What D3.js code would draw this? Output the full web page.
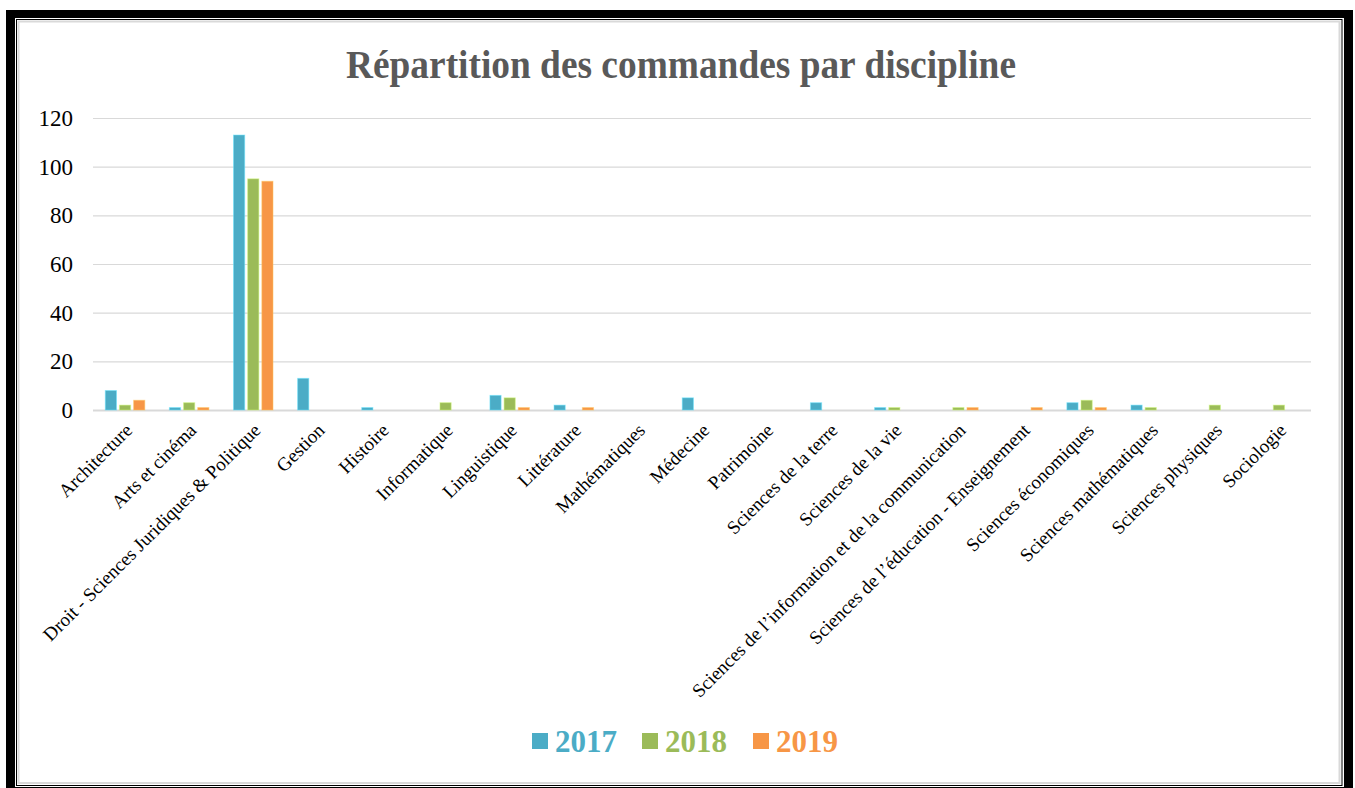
<!DOCTYPE html>
<html>
<head>
<meta charset="utf-8">
<script src="https://cdn.jsdelivr.net/npm/d3@7"></script>
<style>
    html, body { margin: 0; padding: 0; background: #fff; }
    svg { display: block; }
    text { font-family: "Liberation Serif", "Times New Roman", serif; }
</style>
</head>
<body>
<div id="chart"></div>
<script>
const categories = [
    'Architecture',
    'Arts et cinéma',
    'Droit - Sciences Juridiques & Politique',
    'Gestion',
    'Histoire',
    'Informatique',
    'Linguistique',
    'Littérature',
    'Mathématiques',
    'Médecine',
    'Patrimoine',
    'Sciences de la terre',
    'Sciences de la vie',
    'Sciences de l\u2019information et de la communication',
    'Sciences de l\u2019éducation - Enseignement',
    'Sciences économiques',
    'Sciences mathématiques',
    'Sciences physiques',
    'Sociologie'
];
const years = ['2017', '2018', '2019'];
const values2017 = [8, 1, 113, 13, 1, 0, 6, 2, 0, 5, 0, 3, 1, 0, 0, 3, 2, 0, 0];
const values2018 = [2, 3, 95, 0, 0, 3, 5, 0, 0, 0, 0, 0, 1, 1, 0, 4, 1, 2, 2];
const values2019 = [4, 1, 94, 0, 0, 0, 1, 1, 0, 0, 0, 0, 0, 1, 1, 1, 0, 0, 0];
const yTicks = [0, 20, 40, 60, 80, 100, 120];
const colors = ['#4BACC6', '#9BBB59', '#F79646'];

const width = 1355;
const height = 788;
const plot = { left: 93, right: 1311, top: 118, bottom: 410 };
const serif = '"Liberation Serif", "Times New Roman", serif';

let svg, xScale, xInner, yScale, colorScale;

const rows = categories.map((name, i) => ({
    name,
    values: [values2017[i], values2018[i], values2019[i]]
}));

function buildScales() {
    xScale = d3.scaleBand()
        .domain(categories)
        .range([plot.left, plot.right]);

    xInner = d3.scaleBand()
        .domain(years)
        .range([-19.75, 19.75])
        .paddingInner(0.21);

    yScale = d3.scaleLinear()
        .domain([0, 120])
        .range([plot.bottom, plot.top]);

    colorScale = d3.scaleOrdinal()
        .domain(years)
        .range(colors);
}

// frame: thick black outer border, thin black line, grey shadow
function drawFrame() {
    svg.append('rect')
        .attr('x', 6).attr('y', 10)
        .attr('width', 1347).attr('height', 800)
        .attr('fill', '#000');
    svg.append('rect')
        .attr('x', 15).attr('y', 18)
        .attr('width', 1329).attr('height', 769)
        .attr('fill', '#fff');
    svg.append('rect')
        .attr('x', 16.5).attr('y', 19.5)
        .attr('width', 1325.5).attr('height', 766)
        .attr('fill', 'none')
        .attr('stroke', '#000')
        .attr('stroke-width', 1);
    svg.append('rect')
        .attr('x', 18.5).attr('y', 21.5)
        .attr('width', 1321).attr('height', 761.5)
        .attr('fill', 'none')
        .attr('stroke', '#d9d9d9')
        .attr('stroke-width', 2);
}

function drawTitle() {
    svg.append('text')
        .attr('x', 681)
        .attr('y', 78)
        .attr('text-anchor', 'middle')
        .attr('font-size', 39)
        .attr('font-weight', 'bold')
        .attr('fill', '#595959')
        .attr('textLength', 670)
        .attr('lengthAdjust', 'spacingAndGlyphs')
        .text('Répartition des commandes par discipline');
}

function drawAxes() {
    // gridlines
    svg.append('g')
        .attr('transform', `translate(${plot.left},0)`)
        .call(d3.axisLeft(yScale).tickValues(yTicks.slice(1)).tickSize(-(plot.right - plot.left)).tickFormat(''))
        .call(g => g.select('.domain').remove())
        .call(g => g.selectAll('line').attr('stroke', '#d9d9d9').attr('stroke-width', 1.2));

    // y labels
    svg.append('g')
        .attr('transform', 'translate(73,0)')
        .attr('font-family', serif)
        .call(d3.axisLeft(yScale).tickValues(yTicks).tickSize(0).tickPadding(0))
        .attr('font-family', serif)
        .call(g => g.select('.domain').remove())
        .call(g => g.selectAll('text')
            .attr('font-size', 23)
            .attr('fill', '#000'));

    // baseline
    svg.append('line')
        .attr('x1', plot.left).attr('x2', plot.right)
        .attr('y1', yScale(0) + 0.5).attr('y2', yScale(0) + 0.5)
        .attr('stroke', '#d9d9d9')
        .attr('stroke-width', 2.2);

    // category labels, rotated
    svg.append('g')
        .attr('transform', `translate(0,${plot.bottom})`)
        .call(d3.axisBottom(xScale).tickSize(0))
        .attr('font-family', serif)
        .call(g => g.select('.domain').remove())
        .call(g => g.selectAll('text')
            .attr('font-size', 19)
            .attr('fill', '#000')
            .attr('text-anchor', 'end')
            .attr('x', 0)
            .attr('y', 0)
            .attr('dy', '0.7em')
            .attr('transform', 'translate(-1,12) rotate(-45)'));
}

function drawBars() {
    const groups = svg.append('g')
        .selectAll('g')
        .data(rows)
        .join('g')
        .attr('transform', d => `translate(${xScale(d.name) + xScale.bandwidth() / 2},0)`);

    groups.selectAll('rect')
        .data(d => d.values.map((v, i) => ({ year: years[i], value: v })))
        .join('rect')
        .filter(d => d.value > 0)
        .attr('x', d => xInner(d.year))
        .attr('y', d => yScale(d.value))
        .attr('width', xInner.bandwidth())
        .attr('height', d => yScale(0) - yScale(d.value))
        .attr('fill', d => colorScale(d.year))
        .attr('stroke', d => d3.color(colorScale(d.year)).brighter(0.8))
        .attr('stroke-opacity', 0.5)
        .attr('stroke-width', 1);
}

function drawLegend() {
    const positions = [532, 642, 753];
    const legend = svg.append('g')
        .selectAll('g')
        .data(years)
        .join('g')
        .attr('transform', (d, i) => `translate(${positions[i]},733)`);

    legend.append('rect')
        .attr('width', 16)
        .attr('height', 16)
        .attr('fill', d => colorScale(d));

    legend.append('text')
        .attr('x', 23)
        .attr('y', 19)
        .attr('font-size', 31)
        .attr('font-weight', 'bold')
        .attr('fill', d => colorScale(d))
        .text(d => d);
}

svg = d3.select('#chart')
    .append('svg')
    .attr('width', width)
    .attr('height', height);

buildScales();
drawFrame();
drawTitle();
drawAxes();
drawBars();
drawLegend();
</script>
</body>
</html>
